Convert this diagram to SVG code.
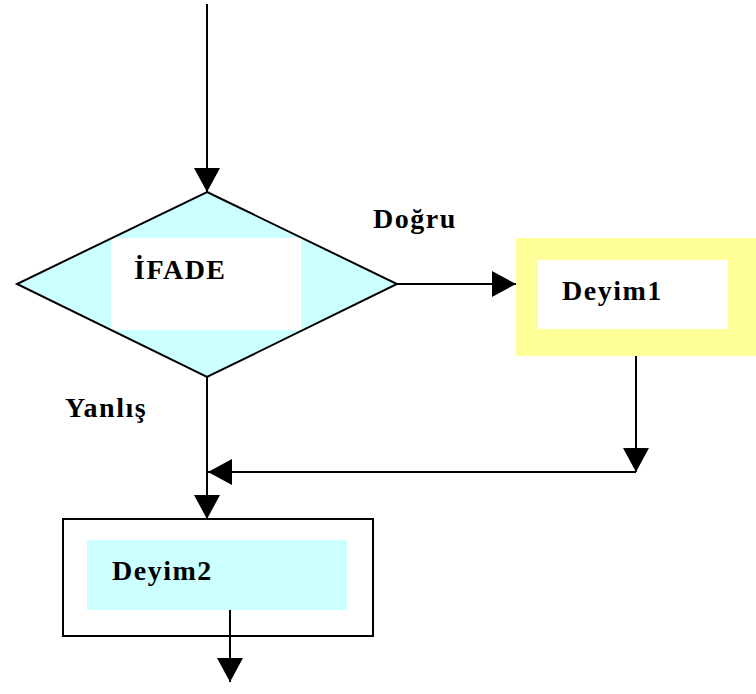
<svg xmlns="http://www.w3.org/2000/svg" width="756" height="694" viewBox="0 0 756 694">
<style>
.t{font-family:"Liberation Serif","Times New Roman",serif;font-weight:bold;font-size:28px;letter-spacing:1.5px;fill:#000}
.c{stroke:#000;stroke-width:2;fill:none}
</style>
<defs>
<marker id="ah" markerUnits="userSpaceOnUse" markerWidth="26" markerHeight="26" viewBox="0 0 24 26" refX="24" refY="13" orient="auto">
<path d="M0,0 L24,13 L0,26 Z" fill="#000"/>
</marker>
</defs>
<rect width="756" height="694" fill="#fff"/>
<g id="ifade">
<polygon points="207,192 397,284 207,377 17,284" fill="#CCFFFF"/>
<rect x="111" y="238" width="190" height="92" fill="#fff"/>
<polygon points="207,192 397,284 207,377 17,284" fill="none" stroke="#000" stroke-width="2"/>
<text class="t" x="134" y="279">İFADE</text>
</g>
<g id="deyim1">
<rect x="516" y="238" width="240" height="118" fill="#FFFF99"/>
<rect x="538" y="260" width="190" height="69" fill="#fff"/>
<text class="t" x="562" y="300">Deyim1</text>
</g>
<g id="deyim2">
<rect x="63" y="519" width="310" height="117" fill="#fff" stroke="#000" stroke-width="2"/>
<rect x="87" y="540" width="260" height="70" fill="#CCFFFF"/>
<text class="t" x="112" y="580">Deyim2</text>
</g>
<g id="labels">
<text class="t" x="373" y="228">Doğru</text>
<text class="t" x="65" y="417">Yanlış</text>
</g>
<g id="connectors">
<line class="c" x1="207" y1="4" x2="207" y2="192" marker-end="url(#ah)"/>
<line class="c" x1="397" y1="284" x2="516" y2="284" marker-end="url(#ah)"/>
<line class="c" x1="636" y1="356" x2="636" y2="472" marker-end="url(#ah)"/>
<line class="c" x1="636" y1="472" x2="208" y2="472" marker-end="url(#ah)"/>
<line class="c" x1="207" y1="377" x2="207" y2="519" marker-end="url(#ah)"/>
<line class="c" x1="230" y1="610" x2="230" y2="682" marker-end="url(#ah)"/>
</g>
</svg>
